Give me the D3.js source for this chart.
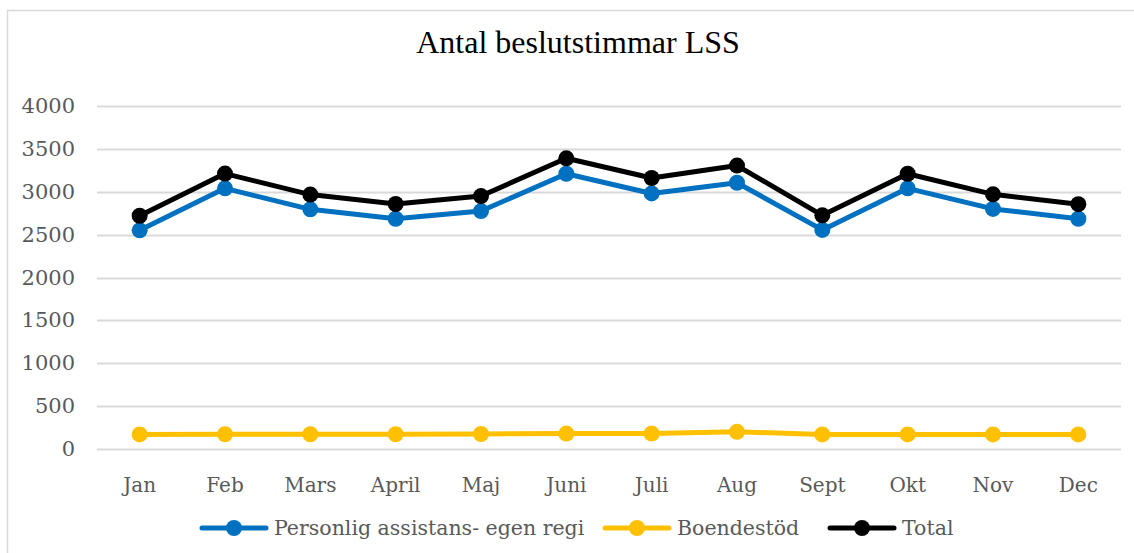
<!DOCTYPE html>
<html>
<head>
<meta charset="utf-8">
<script src="https://cdn.jsdelivr.net/npm/d3@7"></script>
<style>
  body { margin: 0; background: #fff; }
  svg { display: block; }
  .lbl { font-family: 'DejaVu Serif', serif; fill: #595959; }
</style>
</head>
<body>
<div class="chart"></div>
<script>
var months = ['Jan', 'Feb', 'Mars', 'April', 'Maj', 'Juni', 'Juli', 'Aug', 'Sept', 'Okt', 'Nov', 'Dec']
var personlig = [2550, 3040, 2795, 2685, 2775, 3210, 2980, 3105, 2555, 3040, 2800, 2685]
var boendestod = [170, 172, 172, 172, 175, 180, 180, 200, 170, 170, 170, 170]
var total = [2720, 3212, 2967, 2857, 2950, 3390, 3160, 3305, 2725, 3210, 2970, 2855]
var yTicks = [0, 500, 1000, 1500, 2000, 2500, 3000, 3500, 4000]

var series = [
  {name: 'Personlig assistans- egen regi', values: personlig, color: '#0070C0'},
  {name: 'Boendestöd', values: boendestod, color: '#FFC000'},
  {name: 'Total', values: total, color: '#000000'},
]

var width = 1134, height = 553
var margin = {left: 97, right: 13, top: 106, bottom: 104}

var svg = d3.select('.chart').append('svg')
  .attr('width', width).attr('height', height)

// chart frame
svg.append('rect')
  .attr('x', 7.5).attr('y', 10.5)
  .attr('width', width + 10).attr('height', height + 10)
  .attr('fill', 'none').attr('stroke', '#d9d9d9').attr('stroke-width', 1.5)

svg.append('text')
  .attr('x', 578).attr('y', 53)
  .attr('text-anchor', 'middle')
  .style('font-family', "'Liberation Serif', serif")
  .style('font-size', '32px')
  .attr('fill', '#000')
  .text('Antal beslutstimmar LSS')

var x = d3.scaleBand().domain(months)
  .range([margin.left, width - margin.right])

var y = d3.scaleLinear().domain([0, 4000])
  .range([height - margin.bottom, margin.top])

var cx = d => x(d) + x.bandwidth()/2

// gridlines
svg.append('g').selectAll('line').data(yTicks).join('line')
  .attr('x1', margin.left).attr('x2', width - margin.right)
  .attr('y1', d => Math.round(y(d)) + .5).attr('y2', d => Math.round(y(d)) + .5)
  .attr('stroke', '#d9d9d9').attr('stroke-width', 2)

// y labels
svg.append('g').selectAll('text').data(yTicks).join('text')
  .attr('class', 'lbl')
  .attr('x', 75).attr('y', d => y(d) + 7)
  .attr('text-anchor', 'end')
  .style('font-size', '21px')
  .text(d => d)

// x labels
svg.append('g').selectAll('text').data(months).join('text')
  .attr('class', 'lbl')
  .attr('x', d => cx(d)).attr('y', 492)
  .attr('text-anchor', 'middle')
  .style('font-size', '20px')
  .text(d => d)

var line = d3.line()
  .x((d, i) => cx(months[i]))
  .y(d => y(d))

series.forEach(s => {
  var g = svg.append('g')
  g.append('path')
    .attr('d', line(s.values))
    .attr('fill', 'none')
    .attr('stroke', s.color)
    .attr('stroke-width', 5)
    .attr('stroke-linejoin', 'round')
  g.selectAll('circle').data(s.values).join('circle')
    .attr('cx', (d, i) => cx(months[i]))
    .attr('cy', d => y(d))
    .attr('r', 8)
    .attr('fill', s.color)
})

// legend
var legendX = [200, 603, 828]
var legend = svg.append('g').selectAll('g').data(series).join('g')
  .attr('transform', (d, i) => `translate(${legendX[i]}, 528)`)

legend.append('line')
  .attr('x1', 2).attr('x2', 66)
  .attr('stroke', d => d.color).attr('stroke-width', 5)
  .attr('stroke-linecap', 'round')
legend.append('circle')
  .attr('cx', 34).attr('r', 8)
  .attr('fill', d => d.color)
legend.append('text')
  .attr('class', 'lbl')
  .attr('x', 74).attr('y', 7)
  .style('font-size', '20.5px')
  .text(d => d.name)
</script>
</body>
</html>
